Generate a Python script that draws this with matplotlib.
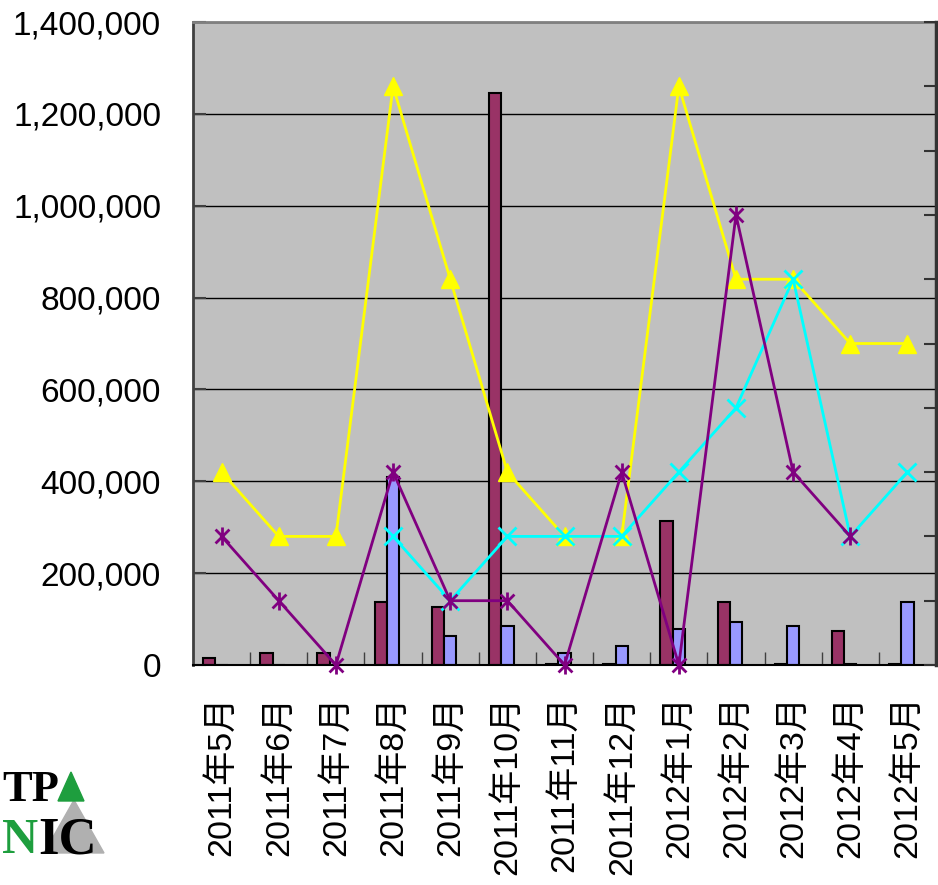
import numpy as np
import matplotlib
matplotlib.use('Agg')
import matplotlib.pyplot as plt
from matplotlib.ticker import FuncFormatter
from matplotlib.path import Path
from matplotlib.patches import Polygon

months = ['2011年5月', '2011年6月', '2011年7月', '2011年8月', '2011年9月', '2011年10月',
          '2011年11月', '2011年12月', '2012年1月', '2012年2月', '2012年3月', '2012年4月',
          '2012年5月']

# bars on the left axis
maroon = [15000, 26000, 26000, 137000, 126000, 1245000, 3000, 3000, 313000, 137000, 3000, 74000, 3000]
blue = [0, 0, 0, 409000, 63000, 85000, 26000, 41000, 78000, 94000, 85000, 3000, 137000]

# lines on the right (unlabelled) axis
yellow = [3, 2, 2, 9, 6, 3, 2, 2, 9, 6, 6, 5, 5]
cyan = [np.nan, np.nan, np.nan, 2, 1, 2, 2, 2, 3, 4, 6, 2, 3]
purple = [2, 1, 0, 3, 1, 1, 0, 3, 0, 7, 3, 2, np.nan]

lab_font = ['Liberation Sans', 'Noto Sans CJK JP']

fig = plt.figure(figsize=(9.38, 8.85), dpi=100)
ax = fig.add_axes([0.2058, 0.2486, 0.7921, 0.7265])
ax.set_facecolor('#C0C0C0')

x = np.arange(len(months))
w = 0.215
ax.bar(x - w, maroon, w, color='#993366', edgecolor='black', linewidth=1.5)
ax.bar(x, blue, w, color='#9999FF', edgecolor='black', linewidth=1.5)

ax.set_xlim(-0.5, len(months) - 0.5)
ax.set_ylim(0, 1400000)
ax.set_yticks(np.arange(0, 1400001, 200000))
ax.yaxis.set_major_formatter(FuncFormatter(lambda v, p: f'{int(v):,}'))
ax.grid(axis='y', color='black', linewidth=1)
ax.set_axisbelow(True)

ax.set_xticks(np.arange(0.5, len(months) - 1, 1))
ax.set_xticks(x, minor=True)
ax.set_xticklabels(months, minor=True, rotation=90, family=lab_font, fontsize=24.5)
ax.tick_params(axis='x', which='major', direction='in', length=9.5, width=1,
               color='#404040', labelbottom=False)
ax.tick_params(axis='x', which='minor', length=0, pad=22)
ax.tick_params(axis='y', direction='in', length=9.5, width=1.5, color='#404040',
               pad=23, labelsize=24)
for t in ax.get_yticklabels():
    t.set_family('Liberation Sans')

ax.spines['left'].set_color('#404040')
ax.spines['left'].set_linewidth(2)
ax.spines['top'].set_color('#808080')
ax.spines['top'].set_linewidth(2)
ax.spines['bottom'].set_color('black')
ax.spines['bottom'].set_linewidth(1.5)
ax.spines['right'].set_visible(False)

ax2 = ax.twinx()
ax2.set_ylim(0, 10)
ax2.set_yticks(range(11))
ax2.tick_params(axis='y', direction='in', length=8.5, width=1.5, color='#333333',
                labelright=False)
for s in ['left', 'top', 'bottom']:
    ax2.spines[s].set_visible(False)
ax2.spines['right'].set_color('#333333')
ax2.spines['right'].set_linewidth(2.5)

star = Path([(-1, -1), (1, 1), (-1, 1), (1, -1), (0, -1.3), (0, 1.3)],
            [Path.MOVETO, Path.LINETO, Path.MOVETO, Path.LINETO, Path.MOVETO, Path.LINETO])

ax2.plot(x, yellow, color='#FFFF00', linewidth=2, marker='^', markersize=12.5, clip_on=False)
ax2.plot(x, cyan, color='#00FFFF', linewidth=2, marker='x', markersize=12.5,
         markeredgewidth=2, clip_on=False)
ax2.plot(x, purple, color='#800080', linewidth=2, marker=star, markersize=13,
         markerfacecolor='none', markeredgewidth=2, clip_on=False)

# logo in the lower left corner
W, H = 938, 885
fig.patches.append(Polygon([[44 / W, 1 - 853 / H], [74 / W, 1 - 800 / H],
                            [104 / W, 1 - 853 / H]], closed=True,
                           transform=fig.transFigure, color='#B0B0B0'))
fig.patches.append(Polygon([[58 / W, 1 - 801 / H], [71 / W, 1 - 772 / H],
                            [84 / W, 1 - 801 / H]], closed=True,
                           transform=fig.transFigure, color='#1E9E3E'))
fig.text(2 / W, 1 - 801 / H, 'TP', ha='left', va='baseline', family='Liberation Serif',
         fontweight='bold', fontsize=32, color='black')
fig.text(2 / W, 1 - 853 / H, 'N', ha='left', va='baseline', family='Liberation Serif',
         fontweight='bold', fontsize=36, color='#1E9E3E')
fig.text(38 / W, 1 - 853 / H, 'IC', ha='left', va='baseline', family='Liberation Serif',
         fontweight='bold', fontsize=38, color='black')

fig.savefig('out.png', dpi=100)
